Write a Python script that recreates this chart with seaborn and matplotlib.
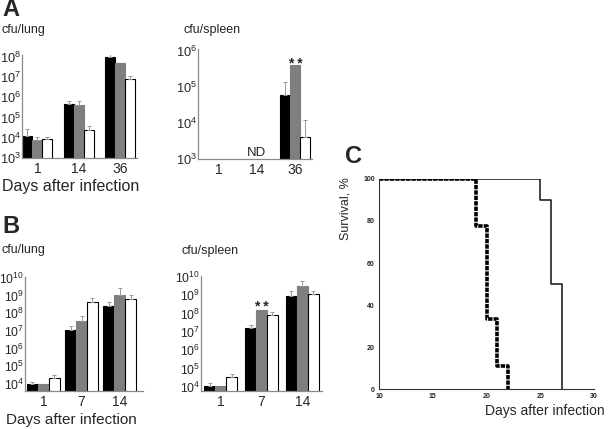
import numpy as np
import pandas as pd
import matplotlib
matplotlib.use("Agg")
import matplotlib.pyplot as plt
from matplotlib.container import BarContainer
import seaborn as sns

sns.set_style("white")
plt.rcParams['font.family'] = ['Liberation Sans', 'DejaVu Sans']
plt.rcParams['mathtext.fontset'] = 'custom'
plt.rcParams['mathtext.rm'] = 'Liberation Sans'

# ---------------- data ----------------
groups = ['group 1', 'group 2', 'group 3']
bar_colors = ['#000000', '#7f7f7f', '#ffffff']

days_A = ['1', '14', '36']
A_lung_black = [1.2e4, 4.7e5, 1.0e8]
A_lung_gray = [7.5e3, 4.2e5, 5.0e7]
A_lung_white = [9.0e3, 2.3e4, 8.0e6]
A_lung_err_black = [2.8e4, 7.0e5, 2.0e8]
A_lung_err_gray = [1.05e4, 7.0e5, 5.0e7]
A_lung_err_white = [1.05e4, 4.0e4, 1.2e7]

A_spleen_days_measured = ['36']
A_spleen_black = [5.8e4]
A_spleen_gray = [3.9e5]
A_spleen_white = [4.1e3]
A_spleen_err_black = [1.35e5]
A_spleen_err_gray = [3.9e5]
A_spleen_err_white = [1.2e4]

days_B = ['1', '7', '14']
B_lung_black = [1.0e4, 1.2e7, 2.4e8]
B_lung_gray = [1.0e4, 3.5e7, 1.0e9]
B_lung_white = [2.1e4, 4.2e8, 6.5e8]
B_lung_err_black = [1.35e4, 1.8e7, 4.2e8]
B_lung_err_gray = [1.0e4, 7.4e7, 2.7e9]
B_lung_err_white = [3.2e4, 7.6e8, 1.0e9]

B_spleen_black = [1.2e4, 1.6e7, 9.3e8]
B_spleen_gray = [1.2e4, 1.55e8, 3.2e9]
B_spleen_white = [3.7e4, 8.3e7, 1.1e9]
B_spleen_err_black = [1.6e4, 2.3e7, 1.7e9]
B_spleen_err_gray = [1.2e4, 1.55e8, 6.0e9]
B_spleen_err_white = [5.1e4, 1.15e8, 1.7e9]

surv1_days = [10, 19, 20, 21, 22]
surv1_pct = [100, 77.8, 33.3, 11.1, 0]
surv2_days = [10, 25, 26, 27]
surv2_pct = [100, 90, 50, 0]

# ---------------- figure ----------------
W, H = 608, 429
fig = plt.figure(figsize=(W / 100, H / 100), dpi=100)
fig.patch.set_facecolor('white')


def px_axes(left, top, right, bottom):
    return fig.add_axes([left / W, 1 - bottom / H, (right - left) / W, (bottom - top) / H])


def bar_panel(ax, days, measured_days, vals, errs, width, xlim, ylim, yticks,
              ylabelsize=9):
    rows = []
    for g, v, e in zip(groups, vals, errs):
        for d, vv, ee in zip(measured_days, v, e):
            rows.append(dict(day=d, group=g, value=vv, err=ee))
    df = pd.DataFrame(rows)
    sns.barplot(data=df, x='day', y='value', hue='group', order=days,
                hue_order=groups, palette=bar_colors, width=width, gap=0,
                errorbar=None, legend=False, ax=ax, saturation=1,
                linewidth=0.8)
    ax.set_yscale('log')
    conts = [c for c in ax.containers if isinstance(c, BarContainer)]
    for gi, cont in enumerate(conts):
        for bar in cont.patches:
            if bar is None:
                continue
            fc = bar.get_facecolor()
            if gi == 2:
                bar.set_edgecolor('black')
            else:
                bar.set_edgecolor(fc)
            xc = bar.get_x() + bar.get_width() / 2
            d = days[int(round(xc))]
            sel = df[(df.day == d) & (df.group == groups[gi])]
            if len(sel) == 0:
                continue
            row = sel.iloc[0]
            if row.err > row.value * 1.02:
                ax.errorbar([xc], [row.value], yerr=[[0], [row.err - row.value]],
                            fmt='none', ecolor='#9a9a9a', elinewidth=0.7,
                            capsize=1.3, capthick=0.7, zorder=3)
    ax.set_xlim(*xlim)
    ax.set_ylim(*ylim)
    ax.set_yticks(yticks)
    ax.yaxis.set_minor_locator(matplotlib.ticker.NullLocator())
    ax.set_xlabel('')
    ax.set_ylabel('')
    for s in ['top', 'right']:
        ax.spines[s].set_visible(False)
    for s in ['left', 'bottom']:
        ax.spines[s].set_color('#8a8a8a')
        ax.spines[s].set_linewidth(0.9)
    ax.tick_params(axis='y', direction='in', length=2.5, width=0.6, color='#8a8a8a',
                   labelsize=ylabelsize, pad=0.8)
    ax.tick_params(axis='x', length=0, labelsize=10, pad=3)
    ax.set_facecolor('white')
    return df


# Panel A lung
axA1 = px_axes(22, 55, 137, 158)
bar_panel(axA1, days_A, days_A,
          [A_lung_black, A_lung_gray, A_lung_white],
          [A_lung_err_black, A_lung_err_gray, A_lung_err_white],
          0.72, (-0.37, 2.4), (1e3, 1.25e8), [1e3, 1e4, 1e5, 1e6, 1e7, 1e8],
          ylabelsize=9.2)

# Panel A spleen
axA2 = px_axes(198, 49, 312, 159)
bar_panel(axA2, days_A, A_spleen_days_measured,
          [A_spleen_black, A_spleen_gray, A_spleen_white],
          [A_spleen_err_black, A_spleen_err_gray, A_spleen_err_white],
          0.81, (-0.55, 2.45), (1e3, 1.1e6), [1e3, 1e4, 1e5, 1e6],
          ylabelsize=9.2)
axA2.text(1, 1.5e3, 'ND', ha='center', va='center', fontsize=9.5)
axA2.text(2, 4.3e5, '* *', ha='center', va='center', fontsize=10, fontweight='bold')

# Panel B lung
axB1 = px_axes(25, 277, 143, 391)
bar_panel(axB1, days_B, days_B,
          [B_lung_black, B_lung_gray, B_lung_white],
          [B_lung_err_black, B_lung_err_gray, B_lung_err_white],
          0.86, (-0.48, 2.61), (10 ** 3.61, 1.1e10),
          [1e4, 1e5, 1e6, 1e7, 1e8, 1e9, 1e10], ylabelsize=8.8)

# Panel B spleen
axB2 = px_axes(201, 276, 322, 391)
bar_panel(axB2, days_B, days_B,
          [B_spleen_black, B_spleen_gray, B_spleen_white],
          [B_spleen_err_black, B_spleen_err_gray, B_spleen_err_white],
          0.80, (-0.48, 2.48), (10 ** 3.78, 1.1e10),
          [1e4, 1e5, 1e6, 1e7, 1e8, 1e9, 1e10], ylabelsize=8.8)
axB2.text(1, 2.3e8, '* *', ha='center', va='center', fontsize=10, fontweight='bold')

# Panel C survival
axC = px_axes(379, 179, 594, 389)
dfs = pd.DataFrame({'day': surv2_days, 'pct': surv2_pct})
sns.lineplot(data=dfs, x='day', y='pct', drawstyle='steps-post', estimator=None,
             sort=False, color='#111111', linewidth=1.1, ax=axC)
dfd = pd.DataFrame({'day': surv1_days, 'pct': surv1_pct})
sns.lineplot(data=dfd, x='day', y='pct', drawstyle='steps-post', estimator=None,
             sort=False, color='black', linewidth=2.6, ax=axC,
             linestyle=(0, (1.2, 0.3)), dash_capstyle='butt')
axC.set_xlim(10, 30)
axC.set_ylim(0, 100)
axC.set_xticks([10, 15, 20, 25, 30])
axC.set_yticks([0, 20, 40, 60, 80, 100])
axC.set_xlabel('')
axC.set_ylabel('')
for s in ['top', 'right']:
    axC.spines[s].set_visible(False)
for s in ['left', 'bottom']:
    axC.spines[s].set_color('#333333')
    axC.spines[s].set_linewidth(0.8)
axC.tick_params(direction='in', length=2.5, width=0.6, labelsize=5, pad=3)
for lab in axC.get_xticklabels() + axC.get_yticklabels():
    lab.set_fontweight('bold')
axC.set_facecolor('white')
axC.patch.set_alpha(0)

# ---------------- texts ----------------
fig.text(2 / W, 1 - 10 / H, 'A', fontsize=17, fontweight='bold', va='center', ha='left')
fig.text(2 / W, 1 - 227 / H, 'B', fontsize=17, fontweight='bold', va='center', ha='left')
fig.text(354 / W, 1 - 157 / H, 'C', fontsize=17, fontweight='bold', va='center', ha='center')

fig.text(2 / W, 1 - 30 / H, 'cfu/lung', fontsize=9, va='center', ha='left')
fig.text(183 / W, 1 - 30 / H, 'cfu/spleen', fontsize=9, va='center', ha='left')
fig.text(2 / W, 1 - 250 / H, 'cfu/lung', fontsize=9, va='center', ha='left')
fig.text(181 / W, 1 - 251 / H, 'cfu/spleen', fontsize=9, va='center', ha='left')

fig.text(71 / W, 1 - 186 / H, 'Days after infection', fontsize=11.5, va='center', ha='center')
fig.text(71 / W, 1 - 420 / H, 'Days after infection', fontsize=11, va='center', ha='center')
fig.text(545 / W, 1 - 411 / H, 'Days after infection', fontsize=10, va='center', ha='center')
fig.text(345 / W, 1 - 209 / H, 'Survival, %', fontsize=9, va='center', ha='center',
         rotation=90)

fig.savefig('out.png', dpi=100, facecolor='white')
